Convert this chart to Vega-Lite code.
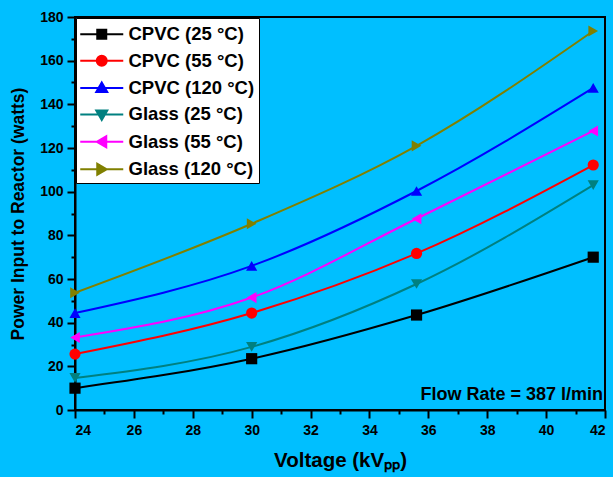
{
  "$schema": "https://vega.github.io/schema/vega-lite/v6.json",
  "width": 530,
  "height": 393,
  "autosize": {"type": "none"},
  "padding": {"left": 75, "top": 17, "right": 8, "bottom": 67},
  "background": "#00BFFF",
  "config": {
    "font": "Liberation Sans",
    "view": {"stroke": "black", "strokeWidth": 2},
    "axis": {
      "grid": false,
      "domainColor": "black",
      "domainWidth": 2,
      "tickColor": "black",
      "tickWidth": 2,
      "labelFont": "Liberation Sans",
      "labelFontSize": 14,
      "labelFontWeight": "bold",
      "labelColor": "black",
      "titleFont": "Liberation Sans",
      "titleFontSize": 17.5,
      "titleFontWeight": "bold",
      "titleColor": "black"
    },
    "legend": {
      "orient": "top-left",
      "offset": 1,
      "padding": 4,
      "fillColor": "white",
      "strokeColor": "black",
      "symbolSize": 100,
      "symbolStrokeWidth": 2,
      "symbolFillColor": "black",
      "labelFont": "Liberation Sans",
      "labelFontSize": 18.5,
      "labelFontWeight": "bold",
      "labelColor": "black",
      "labelOffset": 30,
      "rowPadding": 7.4,
      "titleFontSize": 3,
      "titlePadding": 0
    }
  },
  "datasets": {
    "pts": [
      {"series": "CPVC (25 °C)", "voltage": 24, "power": 10},
      {"series": "CPVC (25 °C)", "voltage": 30, "power": 23.5},
      {"series": "CPVC (25 °C)", "voltage": 35.6, "power": 43.5},
      {"series": "CPVC (25 °C)", "voltage": 41.6, "power": 70},
      {"series": "CPVC (55 °C)", "voltage": 24, "power": 25.6},
      {"series": "CPVC (55 °C)", "voltage": 30, "power": 44.4},
      {"series": "CPVC (55 °C)", "voltage": 35.6, "power": 71.7},
      {"series": "CPVC (55 °C)", "voltage": 41.6, "power": 112.2},
      {"series": "CPVC (120 °C)", "voltage": 24, "power": 44.4},
      {"series": "CPVC (120 °C)", "voltage": 30, "power": 66},
      {"series": "CPVC (120 °C)", "voltage": 35.6, "power": 100.3},
      {"series": "CPVC (120 °C)", "voltage": 41.6, "power": 147.5},
      {"series": "Glass (25 °C)", "voltage": 24, "power": 14.7},
      {"series": "Glass (25 °C)", "voltage": 30, "power": 28.9},
      {"series": "Glass (25 °C)", "voltage": 35.6, "power": 57.7},
      {"series": "Glass (25 °C)", "voltage": 41.6, "power": 103},
      {"series": "Glass (55 °C)", "voltage": 24, "power": 33.2},
      {"series": "Glass (55 °C)", "voltage": 30, "power": 51.5},
      {"series": "Glass (55 °C)", "voltage": 35.6, "power": 87.6},
      {"series": "Glass (55 °C)", "voltage": 41.6, "power": 127.8},
      {"series": "Glass (120 °C)", "voltage": 24, "power": 53.7},
      {"series": "Glass (120 °C)", "voltage": 30, "power": 85.3},
      {"series": "Glass (120 °C)", "voltage": 35.6, "power": 121},
      {"series": "Glass (120 °C)", "voltage": 41.6, "power": 173.6}
    ]
  },
  "encoding": {
    "x": {
      "field": "voltage",
      "type": "quantitative",
      "scale": {"domain": [24, 42], "nice": false, "zero": false},
      "axis": {
        "title": "Voltage (kVₚₚ)",
        "titleFontSize": 20.5,
        "values": [24, 25, 26, 27, 28, 29, 30, 31, 32, 33, 34, 35, 36, 37, 38, 39, 40, 41, 42],
        "labelExpr": "datum.value % 2 === 0 ? datum.label : ''",
        "tickSize": {"condition": {"test": "datum.value % 2 === 0", "value": 8}, "value": 4},
        "labelPadding": 5,
        "titlePadding": 13
      }
    },
    "y": {
      "field": "power",
      "type": "quantitative",
      "scale": {"domain": [0, 180], "nice": false},
      "axis": {
        "title": "Power Input to Reactor (watts)",
        "values": [0, 10, 20, 30, 40, 50, 60, 70, 80, 90, 100, 110, 120, 130, 140, 150, 160, 170, 180],
        "labelExpr": "datum.value % 20 === 0 ? datum.label : ''",
        "tickSize": {"condition": {"test": "datum.value % 20 === 0", "value": 8}, "value": 4},
        "labelPadding": 4,
        "titlePadding": 12
      }
    }
  },
  "layer": [
    {
      "data": {"name": "pts"},
      "mark": {"type": "line", "interpolate": "monotone", "strokeWidth": 2},
      "encoding": {
        "color": {
          "field": "series", "type": "nominal",
          "scale": {
            "domain": ["CPVC (25 °C)", "CPVC (55 °C)", "CPVC (120 °C)", "Glass (25 °C)", "Glass (55 °C)", "Glass (120 °C)"],
            "range": ["#000000", "#FF0000", "#0000FF", "#008080", "#FF00FF", "#808000"]
          },
          "legend": null
        }
      }
    },
    {
      "data": {"name": "pts"},
      "mark": {"type": "point", "filled": true, "size": 125, "opacity": 1},
      "encoding": {
        "color": {"field": "series", "type": "nominal", "legend": null},
        "shape": {
          "field": "series", "type": "nominal",
          "scale": {
            "domain": ["CPVC (25 °C)", "CPVC (55 °C)", "CPVC (120 °C)", "Glass (25 °C)", "Glass (55 °C)", "Glass (120 °C)"],
            "range": ["square", "circle", "triangle-up", "triangle-down", "triangle-left", "triangle-right"]
          },
          "legend": null
        }
      }
    },
    {
      "data": {"name": "pts"},
      "mark": {"type": "point", "filled": true, "size": 100, "opacity": 0},
      "encoding": {
        "fill": {
          "field": "series", "type": "nominal",
          "scale": {
            "domain": ["CPVC (25 °C)", "CPVC (55 °C)", "CPVC (120 °C)", "Glass (25 °C)", "Glass (55 °C)", "Glass (120 °C)"],
            "range": ["#000000", "#FF0000", "#0000FF", "#008080", "#FF00FF", "#808000"]
          },
          "legend": {"title": " "}
        },
        "stroke": {
          "field": "series", "type": "nominal",
          "scale": {
            "domain": ["CPVC (25 °C)", "CPVC (55 °C)", "CPVC (120 °C)", "Glass (25 °C)", "Glass (55 °C)", "Glass (120 °C)"],
            "range": ["#000000", "#FF0000", "#0000FF", "#008080", "#FF00FF", "#808000"]
          },
          "legend": {"title": " "}
        },
        "shape": {
          "field": "series", "type": "nominal",
          "scale": {
            "domain": ["CPVC (25 °C)", "CPVC (55 °C)", "CPVC (120 °C)", "Glass (25 °C)", "Glass (55 °C)", "Glass (120 °C)"],
            "range": [
              "M-1.8,0H6.8M1.6,-0.9H3.4V0.9H1.6Z",
              "M-1.8,0H6.8M1.5,0A1,1,0,1,0,3.5,0A1,1,0,1,0,1.5,0Z",
              "M-1.8,0H6.8M2.5,-1.1L3.6,0.8L1.4,0.8Z",
              "M-1.8,0H6.8M2.5,1.1L3.6,-0.8L1.4,-0.8Z",
              "M-1.8,0H6.8M1.5,0L3.4,-1.1L3.4,1.1Z",
              "M-1.8,0H6.8M3.5,0L1.6,-1.1L1.6,1.1Z"
            ]
          },
          "legend": {"title": " "}
        }
      }
    },
    {
      "data": {"values": [{"note": "Flow Rate = 387 l/min", "voltage": 42, "power": 6.8}]},
      "mark": {"type": "text", "align": "right", "baseline": "middle", "dx": -2, "font": "Liberation Sans", "fontSize": 18, "fontWeight": "bold", "color": "black"},
      "encoding": {
        "text": {"field": "note", "type": "nominal"}
      }
    }
  ],
  "resolve": {
    "scale": {"shape": "independent", "fill": "independent", "stroke": "independent"},
    "legend": {"shape": "independent", "fill": "independent", "stroke": "independent"}
  }
}
